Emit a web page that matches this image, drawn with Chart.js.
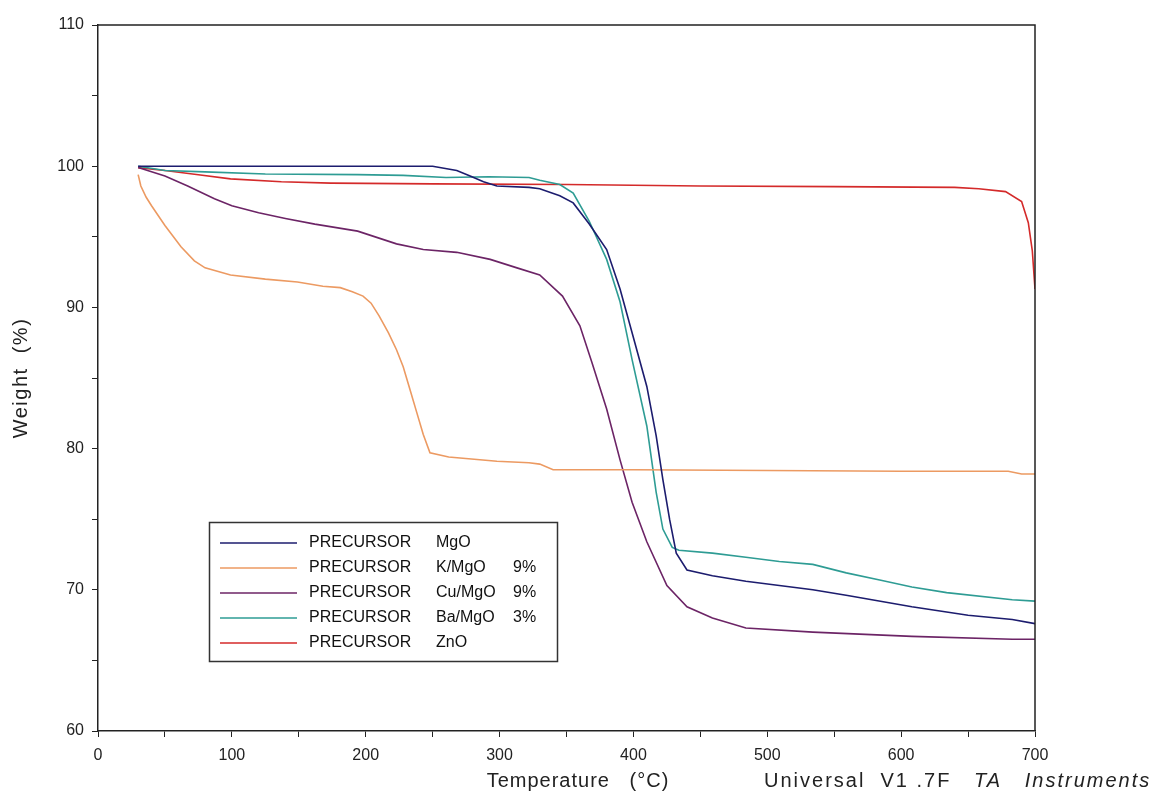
<!DOCTYPE html>
<html>
<head>
<meta charset="utf-8">
<script src="https://cdn.jsdelivr.net/npm/chart.js@4.4.0/dist/chart.umd.min.js"></script>
<style>
  html, body { margin: 0; padding: 0; background: #fff; }
  #wrap { width: 1172px; height: 797px; position: relative; }
</style>
</head>
<body>
<div id="wrap"><canvas id="tga" width="1172" height="797"></canvas></div>
<script>
// TGA curves, weight (%) vs temperature (°C)
const mgoT = [30, 100, 200, 250, 268, 278, 288, 298, 322, 330, 345, 355, 367, 380, 390, 399, 410, 417, 422, 427, 432, 440, 459, 484, 534, 560, 608, 650, 683, 700];
const mgoW = [100, 100, 100, 100, 99.7, 99.3, 98.9, 98.6, 98.5, 98.4, 97.9, 97.4, 95.9, 94.1, 91.3, 88.2, 84.4, 80.9, 77.8, 75.0, 72.6, 71.4, 71.0, 70.6, 70.0, 69.6, 68.8, 68.2, 67.9, 67.6];

const kT = [30, 32, 36, 40, 50, 62, 72, 80, 99, 125, 149, 168, 181, 190, 198, 204, 210, 217, 223, 228, 233, 238, 243, 248, 262, 298, 322, 330, 340, 400, 500, 600, 680, 690, 700];
const kW = [99.4, 98.6, 97.8, 97.2, 95.8, 94.3, 93.3, 92.8, 92.3, 92.0, 91.8, 91.5, 91.4, 91.1, 90.8, 90.3, 89.4, 88.2, 87.0, 85.8, 84.2, 82.6, 81.0, 79.7, 79.4, 79.1, 79.0, 78.9, 78.5, 78.5, 78.45, 78.4, 78.4, 78.2, 78.2];

const cuT = [30, 50, 67, 87, 100, 120, 140, 162, 194, 223, 243, 268, 293, 313, 330, 347, 360, 369, 380, 390, 399, 410, 425, 440, 459, 484, 534, 608, 683, 700];
const cuW = [99.9, 99.3, 98.6, 97.7, 97.2, 96.7, 96.3, 95.9, 95.4, 94.5, 94.1, 93.9, 93.4, 92.8, 92.3, 90.8, 88.7, 86.1, 82.8, 79.2, 76.2, 73.4, 70.3, 68.8, 68.0, 67.3, 67.0, 66.7, 66.5, 66.5];

const baT = [30, 50, 80, 125, 194, 228, 260, 292, 322, 330, 345, 355, 367, 380, 390, 399, 410, 417, 422, 429, 434, 459, 484, 509, 534, 559, 584, 608, 634, 683, 700];
const baW = [100, 99.7, 99.6, 99.45, 99.4, 99.35, 99.2, 99.25, 99.2, 99.0, 98.7, 98.1, 96.1, 93.4, 90.4, 86.3, 81.6, 76.9, 74.3, 73.0, 72.8, 72.6, 72.3, 72.0, 71.8, 71.2, 70.7, 70.2, 69.8, 69.3, 69.2];

const znT = [30, 50, 75, 99, 137, 174, 250, 350, 450, 550, 640, 658, 678, 690, 695, 698, 700];
const znW = [99.9, 99.7, 99.4, 99.1, 98.9, 98.8, 98.75, 98.7, 98.6, 98.55, 98.5, 98.4, 98.2, 97.5, 96.0, 94.0, 91.3];

const seriesNames = ['MgO', 'K/MgO', 'Cu/MgO', 'Ba/MgO', 'ZnO'];
const seriesLoad = ['', '9%', '9%', '3%', ''];
const seriesColors = ['#1c1c6e', '#ec9a62', '#6c2466', '#2e9c94', '#d42a2a'];

const xTicks = [0, 100, 200, 300, 400, 500, 600, 700];
const yTicks = [60, 70, 80, 90, 100, 110];

function pts(t, w) {
  return t.map((v, i) => ({ x: v, y: w[i] }));
}

const curves = [pts(mgoT, mgoW), pts(kT, kW), pts(cuT, cuW), pts(baT, baW), pts(znT, znW)];

const FONT = '"Liberation Sans", Arial, sans-serif';

// box, legend and captions
const extras = {
  id: 'extras',
  afterDraw(chart) {
    const ctx = chart.ctx;
    const a = chart.chartArea;
    ctx.save();
    ctx.strokeStyle = '#222';
    ctx.lineWidth = 1.5;
    ctx.beginPath();
    ctx.moveTo(a.left, a.top);
    ctx.lineTo(a.right, a.top);
    ctx.lineTo(a.right, a.bottom);
    ctx.stroke();

    // legend
    ctx.lineWidth = 1.5;
    ctx.strokeStyle = '#333';
    ctx.strokeRect(209.5, 522.5, 348, 139);
    ctx.font = '16px ' + FONT;
    ctx.textBaseline = 'middle';
    ctx.fillStyle = '#111';
    seriesNames.forEach((name, i) => {
      const y = 543 + i * 25;
      ctx.strokeStyle = seriesColors[i];
      ctx.lineWidth = 1.5;
      ctx.beginPath();
      ctx.moveTo(220, y);
      ctx.lineTo(297, y);
      ctx.stroke();
      ctx.textAlign = 'left';
      ctx.fillText('PRECURSOR', 309, y);
      ctx.fillText(name, 436, y);
      if (seriesLoad[i]) ctx.fillText(seriesLoad[i], 513, y);
    });

    // axis titles
    ctx.font = '20px ' + FONT;
    ctx.letterSpacing = '1px';
    ctx.fillStyle = '#222';
    ctx.textAlign = 'center';
    ctx.fillText('Temperature   (°C)', 578, 781);
    ctx.save();
    ctx.translate(21, 378);
    ctx.rotate(-Math.PI / 2);
    ctx.letterSpacing = '1.5px';
    ctx.fillText('Weight  (%)', 0, 0);
    ctx.restore();

    // instrument stamp
    ctx.textAlign = 'left';
    ctx.letterSpacing = '2px';
    let x = 764;
    const parts = [['Universal  V1 .7F   ', ''], ['TA   Instruments', 'italic ']];
    parts.forEach(([txt, style]) => {
      ctx.font = style + '20px ' + FONT;
      ctx.fillText(txt, x, 781);
      x += ctx.measureText(txt).width;
    });
    ctx.restore();
  }
};

new Chart(document.getElementById('tga'), {
  type: 'line',
  data: {
    datasets: curves.map((d, i) => ({
      label: 'PRECURSOR ' + seriesNames[i],
      data: d,
      borderColor: seriesColors[i],
      borderWidth: 1.6,
      pointRadius: 0,
      tension: 0,
      fill: false
    }))
  },
  options: {
    responsive: false,
    animation: false,
    devicePixelRatio: 1,
    layout: { padding: { top: 25, right: 137, bottom: 0, left: 0 } },
    plugins: { legend: { display: false }, tooltip: { enabled: false } },
    scales: {
      x: {
        type: 'linear',
        min: 0,
        max: 700,
        afterFit(s) { s.height = 66; },
        ticks: {
          stepSize: 50,
          autoSkip: false,
          maxRotation: 0,
          color: '#222',
          padding: 9,
          font: { family: FONT, size: 16 },
          callback: v => xTicks.includes(v) ? String(v) : ''
        },
        grid: { drawOnChartArea: false, drawTicks: true, tickLength: 6, color: '#222', tickColor: '#222' },
        border: { color: '#222', width: 1.5 }
      },
      y: {
        min: 60,
        max: 110,
        afterFit(s) { s.width = 98; },
        ticks: {
          stepSize: 5,
          autoSkip: false,
          color: '#222',
          padding: 8,
          font: { family: FONT, size: 16 },
          callback: v => yTicks.includes(v) ? String(v) : ''
        },
        grid: { drawOnChartArea: false, drawTicks: true, tickLength: 6, color: '#222', tickColor: '#222' },
        border: { color: '#222', width: 1.5 }
      }
    }
  },
  plugins: [extras]
});
</script>
</body>
</html>
